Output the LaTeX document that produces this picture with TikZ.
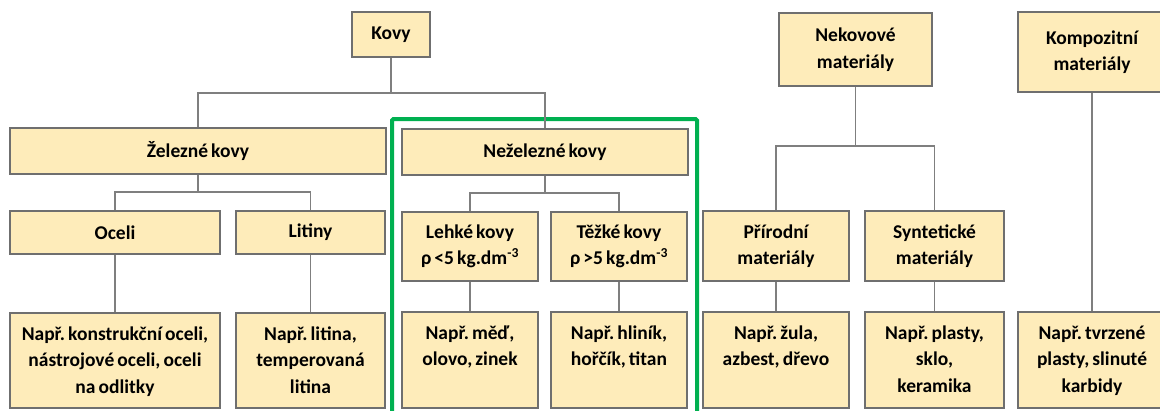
\documentclass[tikz,border=0pt]{standalone}
\usepackage{fontspec}
\setmainfont{Carlito}[WordSpace=0.7]
\frenchspacing
\definecolor{boxfill}{HTML}{FEECBA}
\definecolor{boxline}{HTML}{6F6F6F}
\definecolor{connline}{HTML}{7F7F7F}
\definecolor{grn}{HTML}{00B050}
\begin{document}
\begin{tikzpicture}[x=1pt,y=-1pt,
  box/.style={draw=boxline,line width=1.1pt,fill=boxfill,inner sep=0pt,align=center,
    font=\bfseries\fontsize{19.5}{26.5}\selectfont\frenchspacing},
  txt/.style={anchor=north,align=center,inner sep=0pt,
    font=\bfseries\fontsize{19.5}{26.5}\selectfont\frenchspacing},
  conn/.style={draw=connline,line width=1.1pt}]
\useasboundingbox (0,0) rectangle (1160,410);
% green frame
\draw[grn,line width=4pt,rounded corners=1.5pt] (392,119) rectangle (697,430);
% level boxes
\node[box,minimum width=78pt,minimum height=45pt] (kovy) at (391,34.5) {Kovy};
\node[box,minimum width=376pt,minimum height=46pt] (zel) at (198,151) {Železné kovy};
\node[box,minimum width=286pt,minimum height=46pt] (nez) at (545,152) {Neželezné kovy};
\node[box,minimum width=210pt,minimum height=43pt] (oceli) at (115,232.5) {Oceli};
\node[box,minimum width=149pt,minimum height=43pt] (litiny) at (310.5,232.5) {Litiny};
\node[box,minimum width=136pt,minimum height=69pt] (lehke) at (470,246.5) {Lehké kovy\\ρ <5 kg.dm\textsuperscript{-3}};
\node[box,minimum width=136pt,minimum height=69pt] (tezke) at (619,246.5) {Těžké kovy\\ρ >5 kg.dm\textsuperscript{-3}};
\node[box,minimum width=153pt,minimum height=73pt] (nekov) at (855.5,49.5) {Nekovové\\materiály};
\node[box,minimum width=146pt,minimum height=70pt] (prir) at (776,246) {Přírodní\\materiály};
\node[box,minimum width=139pt,minimum height=70pt] (synt) at (934.5,246) {Syntetické\\materiály};
\node[box,minimum width=148pt,minimum height=80pt] (komp) at (1092,52) {Kompozitní\\materiály};
% bottom boxes
\node[box,minimum width=210pt,minimum height=95pt] (oceliB) at (115,360.5) {};
\node[box,minimum width=149pt,minimum height=95pt] (litinyB) at (310.5,360.5) {};
\node[box,minimum width=136pt,minimum height=96pt] (lehkeB) at (470,360) {};
\node[box,minimum width=136pt,minimum height=96pt] (tezkeB) at (619,360) {};
\node[box,minimum width=146pt,minimum height=96pt] (prirB) at (776,360) {};
\node[box,minimum width=139pt,minimum height=96pt] (syntB) at (934.5,360) {};
\node[box,minimum width=148pt,minimum height=96pt] (kompB) at (1092,360) {};
\node[txt] (oceliT) at ([yshift=-14pt]oceliB.north) {Např. konstrukční oceli,\\nástrojové oceli, oceli\\na odlitky};
\node[txt] (litinyT) at ([yshift=-14pt]litinyB.north) {Např. litina,\\temperovaná\\litina};
\node[txt] (lehkeT) at ([yshift=-14pt]lehkeB.north) {Např. měď,\\olovo, zinek};
\node[txt] (tezkeT) at ([yshift=-14pt]tezkeB.north) {Např. hliník,\\hořčík, titan};
\node[txt] (prirT) at ([yshift=-14pt]prirB.north) {Např. žula,\\azbest, dřevo};
\node[txt] (syntT) at ([yshift=-14pt]syntB.north) {Např. plasty,\\sklo,\\keramika};
\node[txt] (kompT) at ([yshift=-14pt]kompB.north) {Např. tvrzené\\plasty, slinuté\\karbidy};
% junctions
\coordinate (j1) at (391,93);
\coordinate (j2) at (198,192);
\coordinate (j3) at (545,193);
\coordinate (j4) at (855.5,146);
% connectors
\draw[conn] (kovy.south) -- (j1);
\draw[conn] (zel.north) |- (j1) -| (nez.north);
\draw[conn] (zel.south) -- (j2);
\draw[conn] (oceli.north) |- (j2) -| (litiny.north);
\draw[conn] (nez.south) -- (j3);
\draw[conn] (lehke.north) |- (j3) -| (tezke.north);
\draw[conn] (nekov.south) -- (j4);
\draw[conn] (prir.north) |- (j4) -| (synt.north);
\draw[conn] (oceli.south) -- (oceliB.north);
\draw[conn] (litiny.south) -- (litinyB.north);
\draw[conn] (lehke.south) -- (lehkeB.north);
\draw[conn] (tezke.south) -- (tezkeB.north);
\draw[conn] (prir.south) -- (prirB.north);
\draw[conn] (synt.south) -- (syntB.north);
\draw[conn] (komp.south) -- (kompB.north);
\end{tikzpicture}
\end{document}
